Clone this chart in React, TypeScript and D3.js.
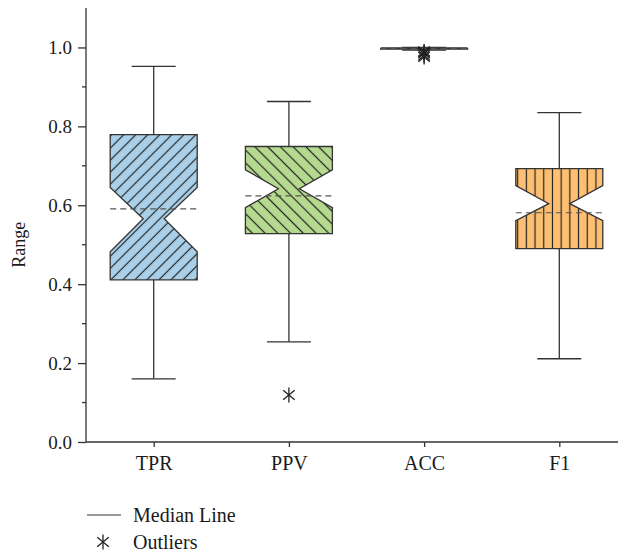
import React, { useEffect, useRef } from 'react';
import * as d3 from 'd3';

// box statistics
const categories = ['TPR', 'PPV', 'ACC', 'F1'];
const whiskerLow = [0.160, 0.254, 0.993, 0.211];
const q1 = [0.411, 0.528, 0.996, 0.490];
const notchLow = [0.482, 0.594, 0.997, 0.561];
const median = [0.566, 0.642, 0.998, 0.604];
const notchHigh = [0.645, 0.690, 0.999, 0.650];
const q3 = [0.779, 0.749, 0.999, 0.693];
const whiskerHigh = [0.952, 0.863, 1.0, 0.835];
const means = [0.591, 0.624, 0.997, 0.581];
const outliers = [[], [0.119], [0.99, 0.985, 0.98, 0.976, 0.988], []];

const fills = ['#a9d0e8', '#b5da8f', '#fdc073', '#fdc073'];
const hatches = ['diagUp', 'diagDown', 'none', 'vertical'];

const yTicks = [0, 0.2, 0.4, 0.6, 0.8, 1.0];

const App = () => {
    const svgRef = useRef(null);

    useEffect(() => {
        const width = 618;
        const height = 560;
        const svg = d3.select(svgRef.current);
        svg.selectAll('*').remove();
        svg.attr('width', width).attr('height', height);

        const font = '"Liberation Serif", "Times New Roman", serif';
        const ink = '#333';

        const y = d3.scaleLinear().domain([0, 1.1]).range([442, 8]);
        const x = d3.scalePoint().domain(categories).range([153.7, 559.3]);
        const boxW = 87;
        const capW = 44;
        const inset = 33;

        // hatch patterns
        const defs = svg.append('defs');
        const addPattern = (id, rotate, gap) => {
            const p = defs.append('pattern')
                .attr('id', id)
                .attr('patternUnits', 'userSpaceOnUse')
                .attr('width', gap)
                .attr('height', gap)
                .attr('patternTransform', `rotate(${rotate})`);
            p.append('line')
                .attr('x1', gap / 2).attr('x2', gap / 2)
                .attr('y1', 0).attr('y2', gap)
                .attr('stroke', '#222')
                .attr('stroke-width', 1.2);
        };
        addPattern('diagUp', 45, 8.5);
        addPattern('diagDown', -45, 9);
        addPattern('vertical', 0, 8.7);

        // axes
        const yAxis = svg.append('g')
            .attr('transform', 'translate(86,0)')
            .call(d3.axisLeft(y).tickValues(yTicks).tickFormat(d3.format('.1f')).tickSize(8).tickPadding(6));
        yAxis.select('.domain').attr('d', `M0,${y(0)}V${y(1.1)}`);
        yAxis.selectAll('text').style('font-family', font).style('font-size', '19px').attr('fill', '#1a1a1a');
        yAxis.selectAll('line, path').attr('stroke', ink).attr('stroke-width', 1.3);

        svg.append('g')
            .selectAll('line')
            .data([0.1, 0.3, 0.5, 0.7, 0.9])
            .enter()
            .append('line')
            .attr('x1', 82).attr('x2', 86)
            .attr('y1', d => y(d)).attr('y2', d => y(d))
            .attr('stroke', ink)
            .attr('stroke-width', 1.3);

        const xAxis = svg.append('g')
            .attr('transform', `translate(0,${y(0)})`)
            .call(d3.axisBottom(x).tickSize(5).tickPadding(9));
        xAxis.select('.domain').attr('d', `M86,0H618`);
        xAxis.selectAll('text').style('font-family', font).style('font-size', '20px').attr('fill', '#1a1a1a');
        xAxis.selectAll('line, path').attr('stroke', ink).attr('stroke-width', 1.3);

        svg.append('text')
            .attr('transform', `translate(25,${y(0.5)})rotate(-90)`)
            .attr('text-anchor', 'middle')
            .style('font-family', font)
            .style('font-size', '18px')
            .attr('fill', '#1a1a1a')
            .text('Range');

        const star = (g, cx, cy, r) => {
            [90, 40, 140].forEach(a => {
                const rad = (a * Math.PI) / 180;
                g.append('line')
                    .attr('x1', cx - r * Math.cos(rad)).attr('y1', cy - r * Math.sin(rad))
                    .attr('x2', cx + r * Math.cos(rad)).attr('y2', cy + r * Math.sin(rad))
                    .attr('stroke', '#222')
                    .attr('stroke-width', 1.3);
            });
        };

        // boxes
        categories.forEach((c, i) => {
            const g = svg.append('g');
            const cx = x(c);
            const l = cx - boxW / 2;
            const r = cx + boxW / 2;

            // whisker
            g.append('line')
                .attr('x1', cx).attr('x2', cx)
                .attr('y1', y(whiskerLow[i])).attr('y2', y(whiskerHigh[i]))
                .attr('stroke', ink).attr('stroke-width', 1.3);
            [whiskerLow[i], whiskerHigh[i]].forEach(v => {
                g.append('line')
                    .attr('x1', cx - capW / 2).attr('x2', cx + capW / 2)
                    .attr('y1', y(v)).attr('y2', y(v))
                    .attr('stroke', ink).attr('stroke-width', 1.3);
            });

            const pts = [
                [l, y(q3[i])], [r, y(q3[i])], [r, y(notchHigh[i])],
                [r - inset, y(median[i])], [r, y(notchLow[i])], [r, y(q1[i])],
                [l, y(q1[i])], [l, y(notchLow[i])], [l + inset, y(median[i])],
                [l, y(notchHigh[i])]
            ];
            const line = d3.line().curve(d3.curveLinearClosed);
            g.append('path').attr('d', line(pts)).attr('fill', fills[i]);
            if (hatches[i] !== 'none') {
                g.append('path').attr('d', line(pts)).attr('fill', `url(#${hatches[i]})`);
            }
            g.append('path').attr('d', line(pts))
                .attr('fill', 'none')
                .attr('stroke', ink)
                .attr('stroke-width', 1.3)
                .attr('stroke-linejoin', 'miter');

            // mean
            g.append('line')
                .attr('x1', l).attr('x2', r)
                .attr('y1', y(means[i])).attr('y2', y(means[i]))
                .attr('stroke', '#555')
                .attr('stroke-width', 1.2)
                .attr('stroke-dasharray', '6,4');

            outliers[i].forEach(v => star(g, cx, y(v), 7.5));
        });

        // legend
        const legend = svg.append('g');
        legend.append('line')
            .attr('x1', 87).attr('x2', 121)
            .attr('y1', 515).attr('y2', 515)
            .attr('stroke', ink).attr('stroke-width', 1.2);
        legend.append('text')
            .attr('x', 133).attr('y', 522)
            .style('font-family', font).style('font-size', '20px').attr('fill', '#1a1a1a')
            .text('Median Line');
        star(legend, 103, 542, 7.5);
        legend.append('text')
            .attr('x', 133).attr('y', 549)
            .style('font-family', font).style('font-size', '20px').attr('fill', '#1a1a1a')
            .text('Outliers');
    }, []);

    return (
        <div style={{ position: 'absolute', left: 0, top: 0 }}>
            <svg ref={svgRef} style={{ display: 'block' }}></svg>
        </div>
    );
};

export default App;
